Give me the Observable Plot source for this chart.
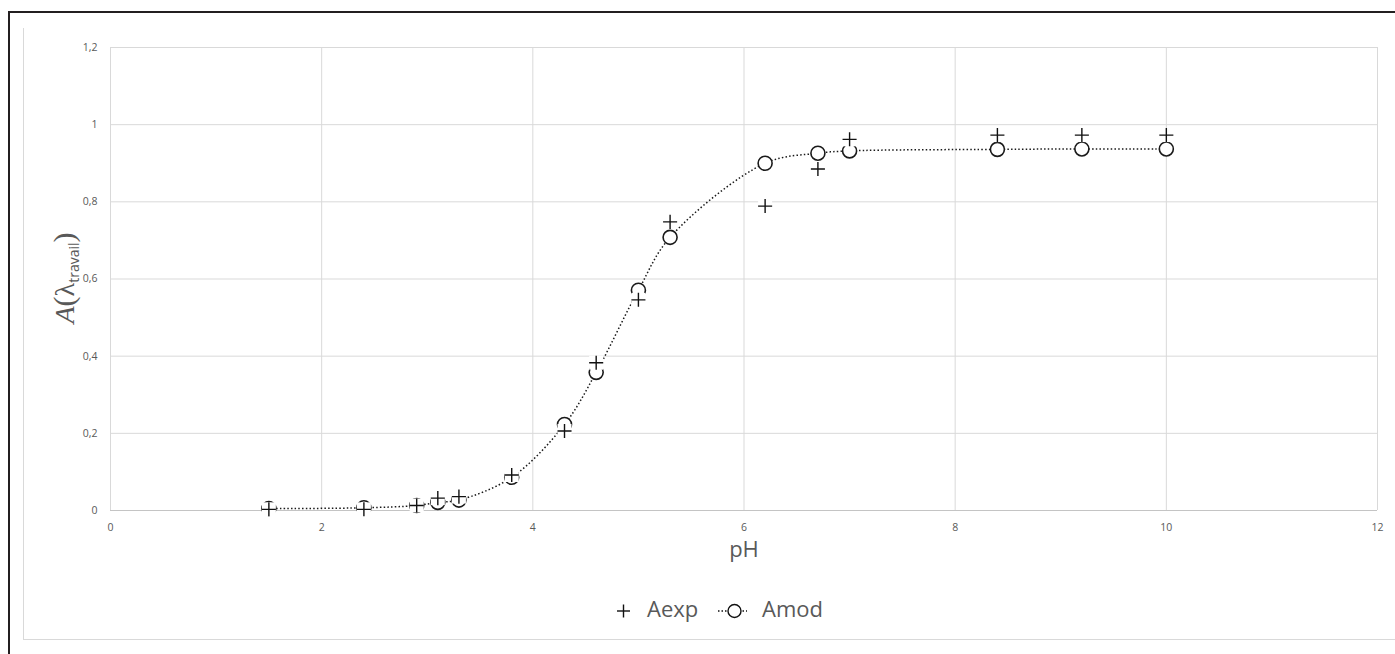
<!DOCTYPE html>
<html><head><meta charset="utf-8">
<script src="https://cdn.jsdelivr.net/npm/d3@7"></script>
<script src="https://cdn.jsdelivr.net/npm/@observablehq/plot@0.6"></script>
<style>
html,body{margin:0;background:#fff;overflow:hidden;}
#wrap{position:relative;width:1395px;height:654px;overflow:hidden;background:#fff;font-family:"Open Sans",sans-serif;}
.bar{position:absolute;}
#chart{position:absolute;left:0;top:0;}
#ylab{position:absolute;left:64px;top:278px;transform:translate(-50%,-50%) rotate(-90deg);white-space:nowrap;color:#595959;line-height:1;}
#legend{position:absolute;left:0;top:580px;}
</style>
</head><body>
<div id="wrap">
  <div class="bar" style="left:8px;top:11px;width:1387px;height:2px;background:#231f20"></div>
  <div class="bar" style="left:8px;top:11px;width:2px;height:643px;background:#231f20"></div>
  <div class="bar" style="left:23px;top:28px;width:1px;height:612px;background:#d9d9d9"></div>
  <div class="bar" style="left:23px;top:639px;width:1372px;height:1px;background:#d9d9d9"></div>
  <div id="chart"></div>
  <div id="ylab"><span style="font-family:'Liberation Serif';font-style:italic;font-size:28px">A</span><span style="font-family:'Liberation Serif';font-size:30px">(</span><span style="font-family:'Liberation Serif';font-size:28px">λ</span><span style="font-family:'Open Sans';font-size:14px;position:relative;top:5px">travail</span><span style="font-family:'Liberation Serif';font-size:30px">)</span></div>
  <svg id="legend" width="1395" height="60">
    <g stroke="#111" stroke-width="1.4" fill="none">
      <line x1="617" x2="630" y1="31" y2="31"/>
      <line x1="623.5" x2="623.5" y1="24.5" y2="37.5"/>
      <line x1="718" x2="747" y1="31" y2="31" stroke-dasharray="1.5,2"/>
      <circle cx="734.5" cy="31" r="6.5" fill="#fff"/>
    </g>
    <text x="647" y="37" font-family="Open Sans" font-size="22" fill="#595959">Aexp</text>
    <text x="762" y="37" font-family="Open Sans" font-size="22" fill="#595959">Amod</text>
  </svg>
</div>
<script>
// Data
const pHExp = [1.5, 2.4, 2.9, 3.1, 3.3, 3.8, 4.3, 4.6, 5.0, 5.3, 6.2, 6.7, 7.0, 8.4, 9.2, 10.0];
const Aexp  = [0.003, 0.003, 0.013, 0.032, 0.036, 0.092, 0.206, 0.383, 0.546, 0.748, 0.789, 0.885, 0.962, 0.973, 0.973, 0.973];
const pHMod = [1.5, 2.4, 2.9, 3.1, 3.3, 3.8, 4.3, 4.6, 5.0, 5.3, 6.2, 6.7, 7.0, 8.4, 9.2, 10.0];
const Amod  = [0.005, 0.007, 0.013, 0.021, 0.027, 0.086, 0.223, 0.358, 0.571, 0.708, 0.900, 0.926, 0.932, 0.936, 0.937, 0.937];
const xTicks = [0, 2, 4, 6, 8, 10, 12];
const yTicks = [0, 0.2, 0.4, 0.6, 0.8, 1, 1.2];
const xLabel = "pH";

const expRows = pHExp.map((x, i) => ({pH: x, A: Aexp[i]}));
const modRows = pHMod.map((x, i) => ({pH: x, A: Amod[i]}));
const fmt = d => String(d).replace(".", ",");

const plot = Plot.plot({
  width: 1395, height: 580,
  marginLeft: 110, marginRight: 18, marginTop: 47, marginBottom: 70,
  x: {domain: [0, 12]},
  y: {domain: [0, 1.2]},
  style: {fontFamily: "Open Sans", fontSize: "10.5px", color: "#595959", background: "transparent"},
  marks: [
    Plot.gridX(xTicks, {stroke: "#d9d9d9", strokeOpacity: 1, strokeWidth: 1}),
    Plot.gridY(yTicks, {stroke: "#d9d9d9", strokeOpacity: 1, strokeWidth: 1}),
    Plot.ruleY([0], {stroke: "#c4c4c4", strokeWidth: 1}),
    Plot.axisX({ticks: xTicks, tickSize: 0, tickPadding: 13, tickFormat: fmt, label: null}),
    Plot.axisY({ticks: yTicks, tickSize: 0, tickPadding: 13, tickFormat: fmt, label: null}),
    Plot.line(modRows, {x: "pH", y: "A", curve: "catmull-rom", stroke: "#1a1a1a", strokeWidth: 1.5, strokeDasharray: "1.5,2.2", strokeLinecap: "butt"}),
    Plot.dot(modRows, {x: "pH", y: "A", r: 7, fill: "white", stroke: "#1a1a1a", strokeWidth: 1.6}),
    Plot.dot(expRows, {x: "pH", y: "A", symbol: "square", r: 7.9, fill: "white", stroke: "none"}),
    Plot.dot(expRows, {x: "pH", y: "A", symbol: "plus", r: 4.6, fill: "none", stroke: "#111", strokeWidth: 1.4}),
    Plot.text([xLabel], {text: d => d, frameAnchor: "bottom", dy: 46, fontSize: 22, fill: "#595959"})
  ]
});
document.getElementById("chart").appendChild(plot);
</script>
</body></html>
